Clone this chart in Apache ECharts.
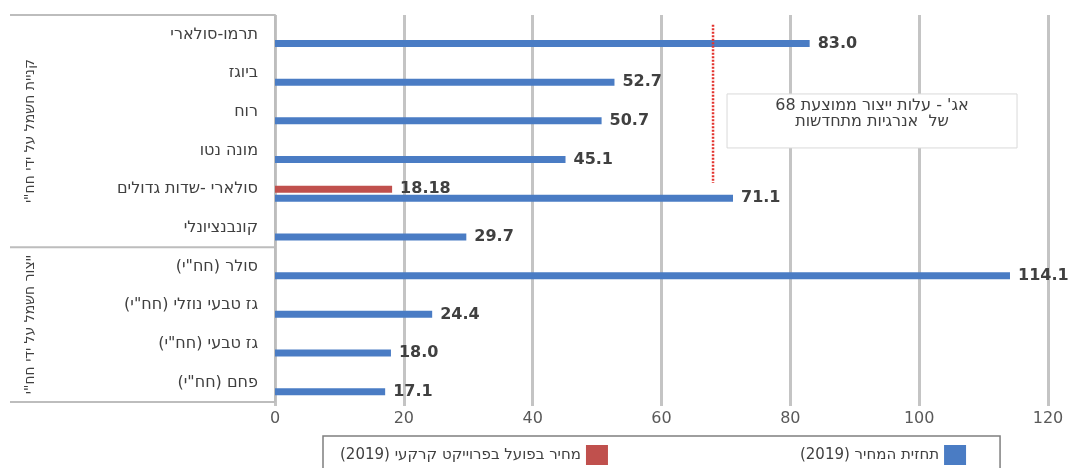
<!DOCTYPE html>
<html>
<head>
<meta charset="utf-8">
<script src="https://cdn.jsdelivr.net/npm/echarts@6/dist/echarts.min.js"></script>
<style>
html, body { margin: 0; padding: 0; background: #ffffff; }
#chart { width: 1068px; height: 468px; }
</style>
</head>
<body>
<div id="chart" dir="rtl"></div>
<script>
// Electricity source categories, top to bottom
const categories = [
  'תרמו-סולארי',
  'ביוגז',
  'רוח',
  'מונה נטו',
  'סולארי -שדות גדולים',
  'קונבנציונלי',
  'סולר (חח"י)',
  'גז טבעי נוזלי (חח"י)',
  'גז טבעי (חח"י)',
  'פחם (חח"י)'
];

// Price forecast (2019), agorot per kWh
const forecastValues = [83.0, 52.7, 50.7, 45.1, 71.1, 29.7, 114.1, 24.4, 18.0, 17.1];
// Actual price in a ground-mounted project (2019)
const actualValues = [null, null, null, null, 18.18, null, null, null, null, null];

const seriesNames = ['תחזית המחיר (2019)', 'מחיר בפועל בפרוייקט קרקעי (2019)'];

// Category groups shown in the bracket column on the left
const groupLabels = ['קניית חשמל על ידי חח"י', 'ייצור חשמל על ידי חח"י'];
const groupRanges = [[0, 5], [6, 9]];

// Average renewable production cost reference
const averageCost = 68;
const averageCostNote = ["68 אג' - עלות ייצור ממוצעת", 'של  אנרגיות מתחדשות'];

// X axis ticks
const xMin = 0;
const xMax = 120;
const xStep = 20;

const FONT = 'DejaVu Sans';
const BLUE = '#4a7cc4';
const RED = '#c0504d';
const GRID_GRAY = '#c4c4c4';

// left-to-right embedding for the note lines
const LRE = '\u202A';
const PDF = '\u202C';

const chart = echarts.init(document.getElementById('chart'), null, { renderer: 'canvas' });

const valueLabel = (digits) => ({
  show: true,
  position: 'right',
  distance: 8,
  fontFamily: FONT,
  fontWeight: 'bold',
  fontSize: 16,
  color: '#404040',
  formatter: (p) => (p.value == null ? '' : Number(p.value).toFixed(digits))
});

chart.setOption({
  animation: false,
  backgroundColor: '#ffffff',
  textStyle: { fontFamily: FONT },
  grid: { left: 275, right: 20, top: 15, bottom: 66, containLabel: false },
  legend: {
    data: [seriesNames[1], seriesNames[0]],
    left: 323,
    top: 436,
    align: 'right',
    icon: 'rect',
    itemWidth: 22,
    itemHeight: 20,
    itemGap: 192,
    padding: [9, 34, 9, 17],
    borderColor: '#7f7f7f',
    borderWidth: 1.5,
    textStyle: { fontFamily: FONT, fontSize: 15, color: '#404040' }
  },
  xAxis: {
    type: 'value',
    min: xMin,
    max: xMax,
    interval: xStep,
    axisLine: { show: false },
    axisTick: { show: true, length: 4, lineStyle: { color: GRID_GRAY, width: 3 } },
    splitLine: { show: true, lineStyle: { color: GRID_GRAY, width: 3 } },
    axisLabel: { fontFamily: FONT, fontSize: 16, color: '#595959', margin: 9 }
  },
  yAxis: {
    type: 'category',
    inverse: true,
    data: categories,
    axisLine: { show: true, lineStyle: { color: '#bdbdbd', width: 2 } },
    axisTick: { show: false },
    axisLabel: { fontFamily: FONT, fontSize: 16, color: '#404040', margin: 17 }
  },
  series: [
    {
      // empty slot that shifts the two visible bars below the category centre
      name: 'slot',
      type: 'bar',
      data: categories.map(() => null),
      barWidth: 7,
      barGap: '30%',
      silent: true
    },
    {
      name: seriesNames[1],
      type: 'bar',
      data: actualValues,
      barWidth: 7,
      barGap: '30%',
      itemStyle: { color: RED },
      label: valueLabel(2)
    },
    {
      name: seriesNames[0],
      type: 'bar',
      data: forecastValues,
      barWidth: 7,
      barGap: '30%',
      itemStyle: { color: BLUE },
      label: valueLabel(1)
    }
  ]
});

// Annotations placed from the axes' own scales
function drawAnnotations() {
  const yOf = (i) => chart.convertToPixel({ yAxisIndex: 0 }, categories[i]);
  const xOf = (v) => chart.convertToPixel({ xAxisIndex: 0 }, v);
  const band = yOf(1) - yOf(0);
  const axisX = xOf(xMin);
  const bracketLeft = 10;
  const elements = [];

  // bracket lines around the category groups
  const edges = [yOf(0) - band / 2];
  groupRanges.forEach((r) => edges.push(yOf(r[1]) + band / 2));
  edges.forEach((y) => {
    elements.push({
      type: 'line',
      z: 50,
      shape: { x1: bracketLeft, y1: y, x2: axisX, y2: y },
      style: { stroke: '#bdbdbd', lineWidth: 2 }
    });
  });

  // rotated group titles
  groupRanges.forEach((r, k) => {
    const yc = (yOf(r[0]) + yOf(r[1])) / 2;
    elements.push({
      type: 'text',
      z: 50,
      x: 30,
      y: yc,
      rotation: Math.PI / 2,
      style: {
        text: groupLabels[k],
        x: 0,
        y: 0,
        align: 'center',
        verticalAlign: 'middle',
        font: '14px "' + FONT + '"',
        fill: '#404040'
      }
    });
  });

  // dotted reference line at the average renewable cost
  const xr = xOf(averageCost);
  elements.push({
    type: 'line',
    z: 60,
    shape: { x1: xr, y1: yOf(0) - band * 0.25, x2: xr, y2: yOf(4) - band * 0.16 },
    style: { stroke: '#e3342f', lineWidth: 2.5, lineDash: [2, 1.5] }
  });

  // note box for the reference line
  const boxLeft = xr + 14;
  const boxTop = yOf(1) + band * 0.54;
  const boxW = 290;
  const boxH = 54;
  elements.push({
    type: 'rect',
    z: 70,
    shape: { x: boxLeft, y: boxTop, width: boxW, height: boxH },
    style: { fill: '#ffffff', stroke: '#d9d9d9', lineWidth: 1 }
  });
  elements.push({
    type: 'text',
    z: 71,
    style: {
      text: averageCostNote.map((s) => LRE + s + PDF).join('\n'),
      x: boxLeft + boxW / 2,
      y: boxTop + 20,
      align: 'center',
      verticalAlign: 'middle',
      font: '16px "' + FONT + '"',
      lineHeight: 16,
      fill: '#404040'
    }
  });

  chart.setOption({ graphic: { elements: elements } });
}

drawAnnotations();
</script>
</body>
</html>
